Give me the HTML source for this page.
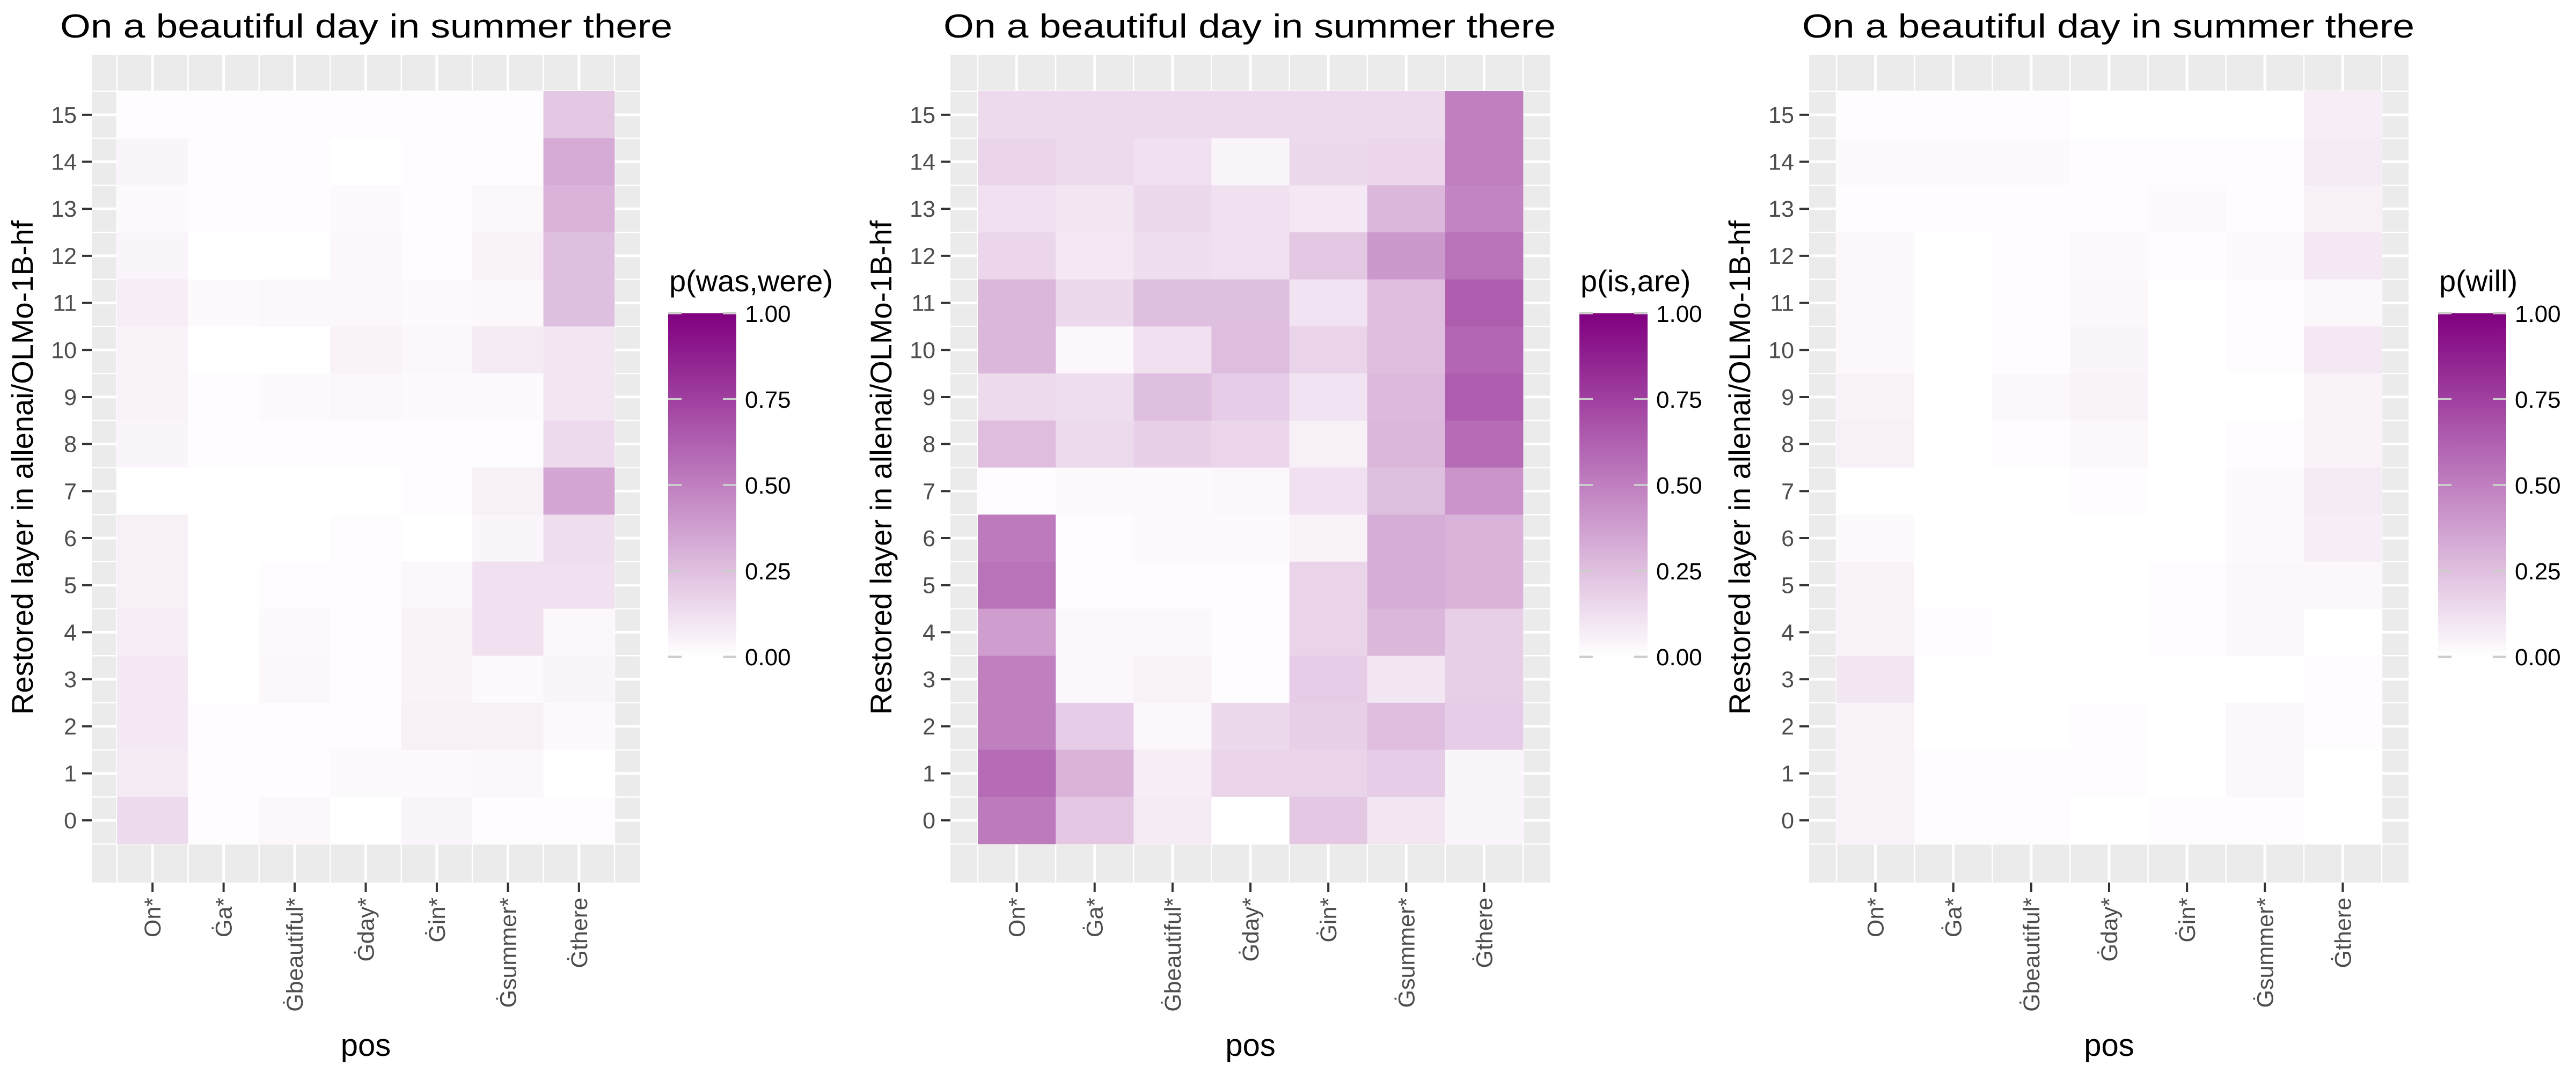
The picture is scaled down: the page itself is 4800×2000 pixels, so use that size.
<!DOCTYPE html>
<html><head><meta charset="utf-8"><style>
html,body{margin:0;padding:0;background:#fff;}
svg{display:block;font-family:"Liberation Sans",sans-serif;}
</style></head><body>
<svg id="chart" width="4800" height="2000" viewBox="0 0 4800 2000" xmlns="http://www.w3.org/2000/svg"></svg>
<script>
const categories = ["On*","\u0120a*","\u0120beautiful*","\u0120day*","\u0120in*","\u0120summer*","\u0120there"];
const layers = [15,14,13,12,11,10,9,8,7,6,5,4,3,2,1,0];
const legendTicks = [0,0.25,0.5,0.75,1];
const legendTickLabels = ["0.00","0.25","0.50","0.75","1.00"];
const titles = ["p(was,were)","p(is,are)","p(will)"];
// rows: layer 15 down to 0; columns: categories
const wasWere = [
[.01,.01,.01,.01,.01,.01,.22],
[.04,.01,.01,.00,.01,.01,.33],
[.02,.01,.01,.02,.01,.03,.30],
[.04,.00,.00,.03,.01,.05,.25],
[.07,.02,.03,.03,.02,.03,.25],
[.05,.00,.00,.05,.03,.08,.10],
[.05,.01,.02,.03,.02,.02,.10],
[.04,.01,.01,.01,.01,.01,.14],
[.00,.00,.00,.00,.01,.06,.35],
[.06,.00,.00,.01,.00,.04,.13],
[.06,.00,.01,.01,.03,.12,.12],
[.07,.00,.02,.01,.05,.12,.03],
[.09,.00,.03,.01,.05,.02,.04],
[.09,.01,.01,.01,.06,.06,.02],
[.08,.01,.01,.02,.02,.03,.00],
[.14,.01,.03,.00,.04,.01,.01]];
const isAre = [
[.14,.14,.14,.14,.14,.14,.50],
[.17,.14,.12,.04,.15,.16,.50],
[.12,.10,.15,.12,.09,.28,.48],
[.16,.09,.13,.12,.22,.40,.55],
[.28,.15,.25,.25,.11,.26,.63],
[.28,.03,.12,.26,.17,.26,.60],
[.14,.13,.25,.20,.11,.27,.63],
[.26,.14,.18,.16,.06,.28,.58],
[.01,.02,.02,.03,.12,.25,.42],
[.52,.01,.02,.02,.05,.32,.30],
[.55,.01,.01,.01,.17,.32,.30],
[.38,.03,.03,.01,.17,.28,.19],
[.50,.03,.05,.01,.20,.10,.19],
[.50,.20,.03,.15,.18,.26,.20],
[.58,.30,.07,.17,.17,.20,.04],
[.52,.22,.08,.00,.22,.10,.04]];
const will = [
[.01,.01,.01,.00,.00,.00,.07],
[.02,.02,.02,.01,.01,.01,.08],
[.01,.01,.01,.01,.02,.01,.06],
[.03,.00,.01,.02,.01,.02,.09],
[.03,.00,.01,.03,.00,.01,.03],
[.03,.00,.01,.04,.00,.01,.09],
[.05,.00,.03,.05,.00,.00,.05],
[.06,.00,.01,.03,.00,.01,.05],
[.00,.00,.00,.01,.00,.02,.08],
[.02,.00,.00,.00,.00,.02,.07],
[.05,.00,.00,.00,.01,.03,.03],
[.05,.01,.00,.00,.01,.03,.00],
[.10,.00,.00,.00,.00,.00,.01],
[.05,.00,.00,.01,.00,.03,.01],
[.05,.01,.01,.01,.00,.03,.00],
[.05,.01,.01,.00,.01,.01,.00]];
const seriesList = [wasWere, isAre, will];

const NS = "http://www.w3.org/2000/svg";
const svg = document.getElementById("chart");
function mk(tag, attrs, parent){
  const e = document.createElementNS(NS, tag);
  for (const k in attrs) e.setAttribute(k, attrs[k]);
  (parent||svg).appendChild(e);
  return e;
}
function col(v){
  const r = Math.round(255 + (128-255)*v), g = Math.round(255*(1-v)), b = r;
  return `rgb(${r},${g},${b})`;
}
const defs = mk("defs", {});
const lg = mk("linearGradient", {id:"grad", x1:"0", y1:"1", x2:"0", y2:"0"}, defs);
mk("stop", {offset:"0", "stop-color":"#ffffff"}, lg);
mk("stop", {offset:"1", "stop-color":"#800080"}, lg);

const panels = [
  {px0:171, px1:1192, tx0:218, tx1:1145, titleX:112, ytitleX:41, legX:1245},
  {px0:1771, px1:2888, tx0:1822, tx1:2838, titleX:1758, ytitleX:1641, legX:2943},
  {px0:3371, px1:4488, tx0:3422, tx1:4438, titleX:3358, ytitleX:3241, legX:4543}
];
const PY0 = 102, PY1 = 1645, TY0 = 170, TY1 = 1573;

panels.forEach((p, pi) => {
  const data = seriesList[pi];
  const g = mk("g", {});
  
  
  const cw = (p.tx1 - p.tx0) / categories.length;
  const rh = (TY1 - TY0) / layers.length;
  const xC = i => p.tx0 + cw*(i+0.5);
  const yC = L => TY0 + rh*(15 - L + 0.5);
  const bg = mk("rect", {x:p.px0, y:PY0, width:p.px1-p.px0, height:PY1-PY0, fill:"#EBEBEB"}, g);
  
  
  // grid
  for (let k = 0; k <= categories.length*2; k++){
    const x = p.tx0 + cw*k/2;
    mk("line", {x1:x, x2:x, y1:PY0, y2:PY1, stroke:"#fff", "stroke-width": k%2 ? 5 : 2.5}, g);
  }
  for (let k = 0; k <= layers.length*2; k++){
    const y = TY0 + rh*k/2;
    mk("line", {x1:p.px0, x2:p.px1, y1:y, y2:y, stroke:"#fff", "stroke-width": k%2 ? 5 : 2.5}, g);
  }
  // tiles
  layers.forEach((L, ri) => {
    categories.forEach((c, ci) => {
      const r = mk("rect", {x:xC(ci)-cw/2, y:yC(L)-rh/2, width:cw+0.5, height:rh+0.5, fill:col(data[ri][ci])}, g);
      
      
    });
  });
  // y ticks
  layers.forEach(L => {
    const y = yC(L);
    mk("line", {x1:p.px0-18, x2:p.px0, y1:y, y2:y, stroke:"#333", "stroke-width":4}, g);
    const t = mk("text", {x:p.px0-28, y:y+15, "text-anchor":"end", "font-size":43, fill:"#4D4D4D"}, g);
    t.textContent = L;
    
    
  });
  // x ticks
  categories.forEach((c, ci) => {
    const x = xC(ci);
    mk("line", {x1:x, x2:x, y1:PY1, y2:PY1+18, stroke:"#333", "stroke-width":4}, g);
    const t = mk("text", {x:0, y:0, transform:`translate(${x+15},${PY1+28}) rotate(-90)`, "text-anchor":"end", "font-size":43, fill:"#4D4D4D"}, g);
    t.textContent = c;
    
    
  });
  // titles
  const tt = mk("text", {x:p.titleX, y:70, "font-size":62, fill:"#000", textLength:1141, lengthAdjust:"spacingAndGlyphs"}, g);
  tt.textContent = "On a beautiful day in summer there";
  
  
  const yt = mk("text", {x:0, y:0, transform:`translate(${p.ytitleX+20},${(TY0+TY1)/2}) rotate(-90)`, "text-anchor":"middle", "font-size":56, fill:"#000"}, g);
  yt.textContent = "Restored layer in allenai/OLMo-1B-hf";
  
  
  const xt = mk("text", {x:(p.tx0+p.tx1)/2, y:1968, "text-anchor":"middle", "font-size":58, fill:"#000"}, g);
  xt.textContent = "pos";
  
  
  // legend
  const LY0 = 584, LY1 = 1224, LW = 127;
  const lt = mk("text", {x:p.legX+2, y:543, "font-size":56, fill:"#000"}, g);
  lt.textContent = titles[pi];
  
  
  const bar = mk("rect", {x:p.legX, y:LY0, width:LW, height:LY1-LY0, fill:"url(#grad)"}, g);
  
  
  legendTicks.forEach((v, i) => {
    const y = LY1 - (LY1-LY0)*v;
    mk("line", {x1:p.legX, x2:p.legX+25, y1:y, y2:y, stroke:"#ccc", "stroke-width":4}, g);
    mk("line", {x1:p.legX+LW-25, x2:p.legX+LW, y1:y, y2:y, stroke:"#ccc", "stroke-width":4}, g);
    const t = mk("text", {x:p.legX+LW+16, y:y+16, "font-size":44, fill:"#000"}, g);
    t.textContent = legendTickLabels[i];
    
    
  });
});
</script>
</body></html>
